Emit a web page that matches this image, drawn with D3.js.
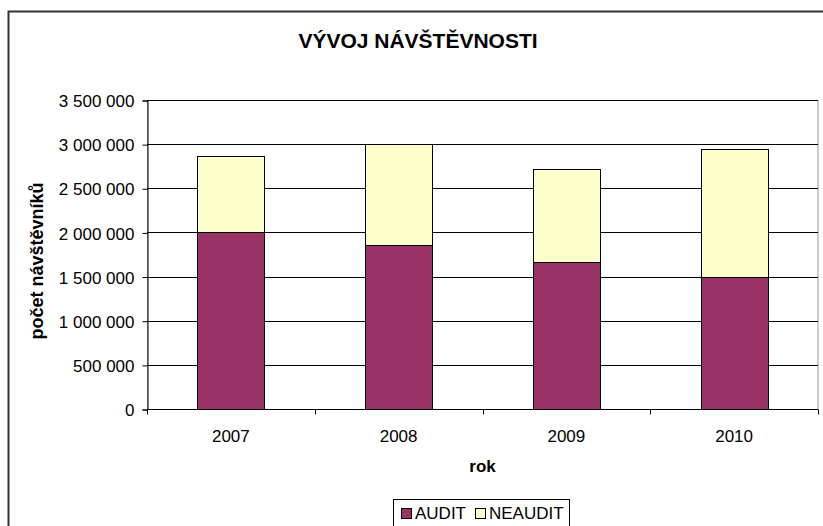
<!DOCTYPE html>
<html>
<head>
<meta charset="UTF-8">
<title>Vývoj návštěvnosti</title>
<style>
  body { margin: 0; background: #fff; }
  text { font-family: Arial, "Liberation Sans", sans-serif; fill: #000; }
</style>
</head>
<body>
<script src="https://cdn.jsdelivr.net/npm/d3@7/dist/d3.min.js"></script>
<script>
// data
var years = ["2007", "2008", "2009", "2010"];
var audit = [2000000, 1856000, 1670000, 1495000];
var neaudit = [870000, 1149000, 1046000, 1447000];
var seriesNames = ["AUDIT", "NEAUDIT"];
var seriesColors = ["#993366", "#ffffcc"];
var yTicks = [0, 500000, 1000000, 1500000, 2000000, 2500000, 3000000, 3500000];

var width = 823, height = 526;
var plot = {left: 147, right: 818, top: 100, bottom: 409};

var svg = d3.select("body").append("svg")
  .attr("width", width)
  .attr("height", height);

// chart frame
svg.append("rect")
  .attr("x", 8.5).attr("y", 11.5)
  .attr("width", 830).attr("height", 540)
  .attr("fill", "#fff")
  .attr("stroke", "#333")
  .attr("stroke-width", 2);

var x = d3.scaleBand()
  .domain(years)
  .range([plot.left, plot.right])
  .paddingInner(0.6)
  .paddingOuter(0.3);

var y = d3.scaleLinear()
  .domain([0, 3500000])
  .range([plot.bottom, plot.top]);

var cz = d3.formatLocale({decimal: ",", thousands: " ", grouping: [3], currency: ["", ""]});
var fmt = cz.format(",");

// plot area border
svg.append("rect")
  .attr("x", plot.left + 0.5).attr("y", plot.top + 0.5)
  .attr("width", plot.right - plot.left - 0.5)
  .attr("height", plot.bottom - plot.top)
  .attr("fill", "none")
  .attr("stroke", "#999");

// gridlines
svg.append("g").selectAll("line")
  .data(yTicks.slice(1))
  .enter().append("line")
  .attr("x1", plot.left).attr("x2", plot.right)
  .attr("y1", function(d){ return Math.round(y(d)) + 0.5; })
  .attr("y2", function(d){ return Math.round(y(d)) + 0.5; })
  .attr("stroke", "#000");

// stacked bars
var rows = years.map(function(yr, i){
  return {year: yr, AUDIT: audit[i], NEAUDIT: neaudit[i]};
});
var stack = d3.stack().keys(seriesNames)(rows);

svg.append("g").selectAll("g")
  .data(stack)
  .enter().append("g")
  .attr("fill", function(d, i){ return seriesColors[i]; })
  .selectAll("rect")
  .data(function(d){ return d; })
  .enter().append("rect")
  .attr("x", function(d){ return Math.round(x(d.data.year)) + 0.5; })
  .attr("y", function(d){ return Math.round(y(d[1])) + 0.5; })
  .attr("width", Math.round(x.bandwidth()))
  .attr("height", function(d){ return Math.round(y(d[0])) - Math.round(y(d[1])); })
  .attr("stroke", "#000")
  .attr("stroke-width", 1);

// y axis
var yAxis = svg.append("g")
  .attr("transform", "translate(" + (plot.left + 0.5) + ",0.5)")
  .call(d3.axisLeft(y).tickValues(yTicks).tickFormat(fmt).tickSize(5).tickPadding(8));
yAxis.selectAll("text").style("font-size", "17px").attr("dy", "0.36em");

// x axis, ticks sit between categories
var xAxis = svg.append("g")
  .attr("transform", "translate(0," + (plot.bottom + 0.5) + ")");
xAxis.append("line")
  .attr("x1", plot.left).attr("x2", plot.right)
  .attr("stroke", "#000");
var step = x.step();
xAxis.selectAll(".tk")
  .data(d3.range(years.length + 1))
  .enter().append("line")
  .attr("class", "tk")
  .attr("x1", function(i){ return Math.round(plot.left + i * step) + 0.5; })
  .attr("x2", function(i){ return Math.round(plot.left + i * step) + 0.5; })
  .attr("y1", 0).attr("y2", 5)
  .attr("stroke", "#000");
xAxis.selectAll(".lbl")
  .data(years)
  .enter().append("text")
  .attr("class", "lbl")
  .attr("x", function(d){ return x(d) + x.bandwidth() / 2; })
  .attr("y", 32)
  .attr("text-anchor", "middle")
  .style("font-size", "17px")
  .text(function(d){ return d; });
yAxis.select(".domain").attr("stroke", "#000");

// titles
svg.append("text")
  .attr("x", 418).attr("y", 48)
  .attr("text-anchor", "middle")
  .style("font-size", "21px").style("font-weight", "bold")
  .text("VÝVOJ NÁVŠTĚVNOSTI");

svg.append("text")
  .attr("transform", "translate(43,261) rotate(-90)")
  .attr("text-anchor", "middle")
  .style("font-size", "18px").style("font-weight", "bold")
  .text("počet návštěvníků");

svg.append("text")
  .attr("x", (plot.left + plot.right) / 2).attr("y", 472)
  .attr("text-anchor", "middle")
  .style("font-size", "17px").style("font-weight", "bold")
  .text("rok");

// legend
var legend = svg.append("g");
legend.append("rect")
  .attr("x", 393.5).attr("y", 499.5)
  .attr("width", 176).attr("height", 40)
  .attr("fill", "#fff")
  .attr("stroke", "#000");
var lx = [401, 475];
var items = legend.selectAll(".item")
  .data(seriesNames)
  .enter().append("g")
  .attr("class", "item")
  .attr("transform", function(d, i){ return "translate(" + lx[i] + ",0)"; });
items.append("rect")
  .attr("x", 0.5).attr("y", 508.5)
  .attr("width", 10).attr("height", 10)
  .attr("fill", function(d, i){ return seriesColors[i]; })
  .attr("stroke", "#000");
items.append("text")
  .attr("x", 14).attr("y", 519)
  .style("font-size", "17px")
  .text(function(d){ return d; });
</script>
</body>
</html>
